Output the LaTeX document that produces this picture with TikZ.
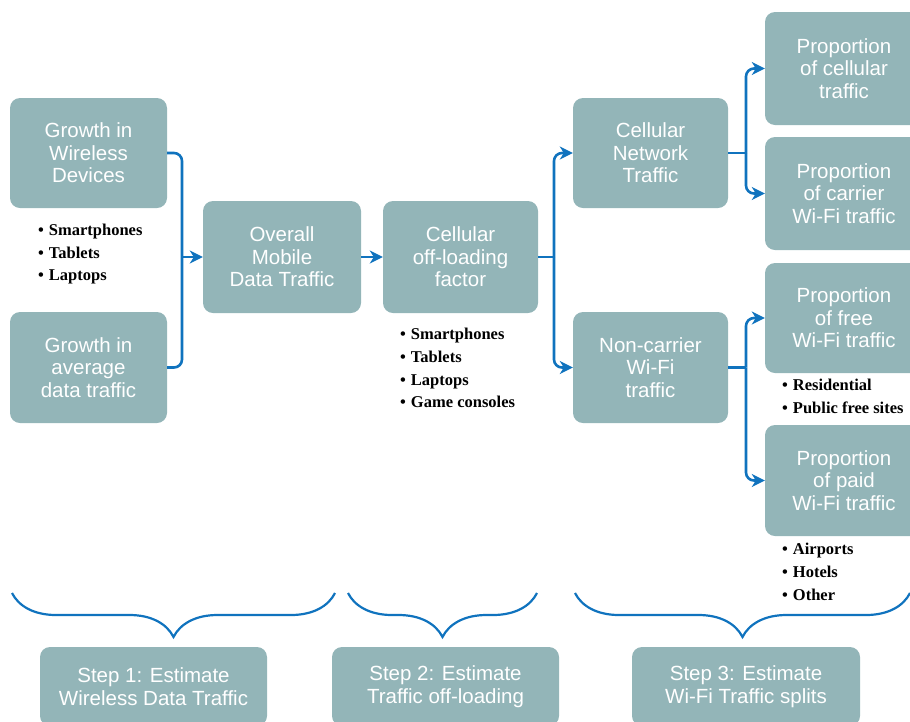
\documentclass[tikz,border=0pt]{standalone}
\usepackage{fontspec}
\setmainfont{Liberation Serif}
\setsansfont{Liberation Sans}
\usetikzlibrary{arrows.meta,decorations.pathreplacing}
\definecolor{boxfill}{HTML}{93B5B8}
\definecolor{flowblue}{HTML}{1073BE}

\begin{document}
\begin{tikzpicture}[x=1pt, y=-1pt,
	box/.style={fill=boxfill, rounded corners=10pt, inner sep=0pt, align=center, text=white,
		font=\sffamily\fontsize{20.5}{22.5}\selectfont},
	link/.style={flowblue, line width=2.6pt, rounded corners=8pt},
	flow/.style={link, -{Stealth[length=13pt,width=13pt,inset=4pt]}},
	item/.style={anchor=base west, inner sep=0pt, font=\bfseries\fontsize{16.5}{20}\selectfont},
	bracket/.style={flowblue, line width=2.2pt, decorate, decoration={brace, mirror, amplitude=44pt}}]
	\clip (0,0) rectangle (910,721);
	\node [box, minimum width=157pt, minimum height=110pt] (grow1) at (88.5,153) {Growth in\\Wireless\\Devices};
	\node [box, minimum width=157pt, minimum height=111pt] (grow2) at (88.5,367.5) {Growth in\\average\\data traffic};
	\node [box, minimum width=158pt, minimum height=112pt] (overall) at (282,257) {Overall\\Mobile\\Data Traffic};
	\node [box, minimum width=155pt, minimum height=112pt] (offload) at (460.5,257) {Cellular\\off-loading\\factor};
	\node [box, minimum width=155pt, minimum height=110pt] (cellnet) at (650.5,153) {Cellular\\Network\\Traffic};
	\node [box, minimum width=155pt, minimum height=111pt] (noncar) at (650.5,367.5) {Non-carrier\\Wi-Fi\\traffic};
	\node [box, minimum width=158pt, minimum height=113pt] (propcell) at (844,68.5) {Proportion\\of cellular\\traffic};
	\node [box, minimum width=158pt, minimum height=113pt] (propcarr) at (844,193.5) {Proportion\\of carrier\\Wi-Fi traffic};
	\node [box, minimum width=158pt, minimum height=110pt] (propfree) at (844,318) {Proportion\\of free\\Wi-Fi traffic};
	\node [box, minimum width=158pt, minimum height=111pt] (proppaid) at (844,480.5) {Proportion\\of paid\\Wi-Fi traffic};
	\node [box, minimum width=227pt, minimum height=79pt] (step1) at (153.5,686.5) {Step 1: Estimate\\Wireless Data Traffic};
	\node [box, minimum width=227pt, minimum height=79pt] (step2) at (445.5,686.5) {Step 2: Estimate\\Traffic off-loading};
	\node [box, minimum width=228pt, minimum height=79pt] (step3) at (746,686.5) {Step 3: Estimate\\Wi-Fi Traffic splits};
	\foreach \name/\y in {Smartphones/235.5, Tablets/258, Laptops/280.5}
		\node [item] (dev-\y) at (38,\y) {•\hspace{5pt}\name};
	\foreach \name/\y in {Smartphones/339.5, Tablets/362, Laptops/385, Game consoles/407.5}
		\node [item] (off-\y) at (400,\y) {•\hspace{5pt}\name};
	\foreach \name/\y in {Residential/390.5, Public free sites/413.5}
		\node [item] (free-\y) at (782,\y) {•\hspace{5pt}\name};
	\foreach \name/\y in {Airports/554.5, Hotels/577.5, Other/600.5}
		\node [item] (paid-\y) at (782,\y) {•\hspace{5pt}\name};
	\coordinate (j1) at (182,257);
	\coordinate (j2) at (554,257);
	\coordinate (j3) at (746,153);
	\coordinate (j4) at (746,367.5);
	\draw [link] (grow1.east) -| (j1) |- (grow2.east);
	\draw [flow] (j1) -- (overall.west);
	\draw [flow] (overall.east) -- (offload.west);
	\draw [link] (offload.east) -- (j2);
	\draw [flow] (j2) |- (cellnet.west);
	\draw [flow] (j2) |- (noncar.west);
	\draw [link] (cellnet.east) -- (j3);
	\draw [flow] (j3) |- (propcell.west);
	\draw [flow] (j3) |- (propcarr.west);
	\draw [link] (noncar.east) -- (j4);
	\draw [flow] (j4) |- (propfree.west);
	\draw [flow] (j4) |- (proppaid.west);
	\coordinate (b1s) at (12,593);
	\coordinate (b1e) at (335,593);
	\coordinate (b2s) at (348,593);
	\coordinate (b2e) at (537,593);
	\coordinate (b3s) at (575,593);
	\coordinate (b3e) at (910,593);
	\draw [bracket] (b1s) -- (b1e);
	\draw [bracket] (b2s) -- (b2e);
	\draw [bracket] (b3s) -- (b3e);
\end{tikzpicture}
\end{document}
